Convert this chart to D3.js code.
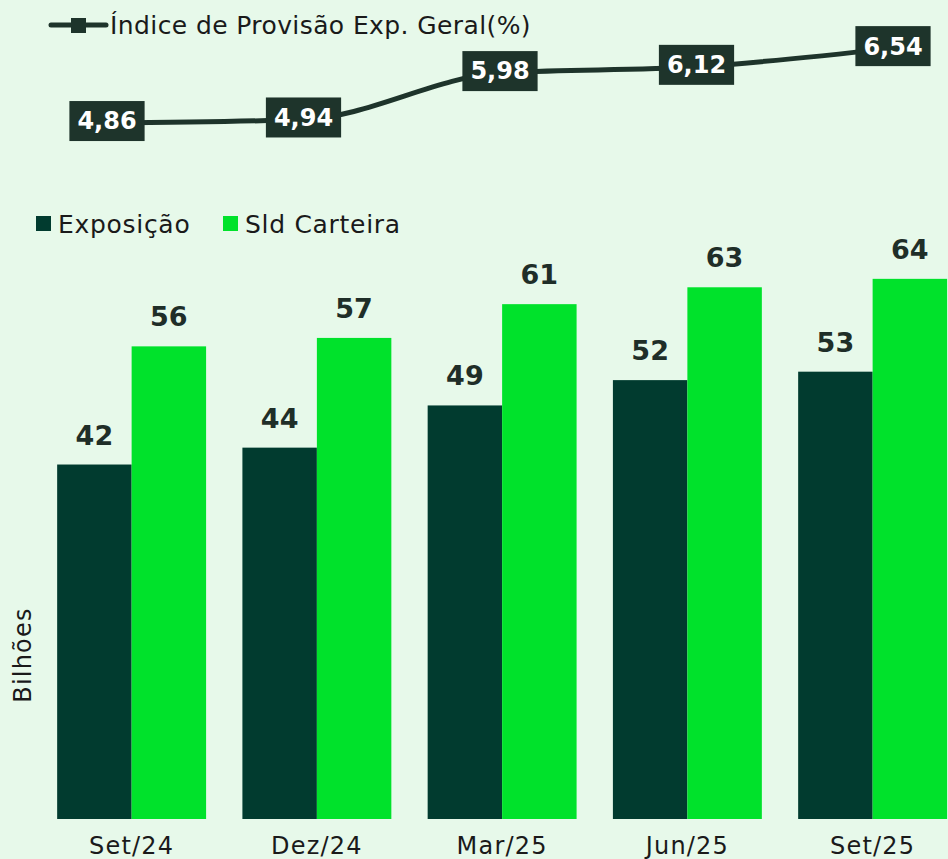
<!DOCTYPE html>
<html><head><meta charset="utf-8">
<script src="https://cdn.jsdelivr.net/npm/d3@7"></script>
<style>
html,body{margin:0;padding:0;background:#e7f9ea;}
svg{display:block;}
text{font-family:"DejaVu Sans",sans-serif;}
</style></head>
<body>
<svg id="c" width="948" height="859"></svg>
<script>
const categories = ["Set/24","Dez/24","Mar/25","Jun/25","Set/25"];
const exposicao = [42,44,49,52,53];
const sldCarteira = [56,57,61,63,64];
const indice = [4.86,4.94,5.98,6.12,6.54];
const indiceLabels = ["4,86","4,94","5,98","6,12","6,54"];
const seriesNames = ["Exposição","Sld Carteira"];
const lineName = "Índice de Provisão Exp. Geral(%)";

const W = 948, H = 859;
const cDark = "#013b2f", cGreen = "#00e22b", cBox = "#1e342b", cText = "#1a1a1a";
const svg = d3.select("#c");
svg.append("rect").attr("width",W).attr("height",H).attr("fill","#e7f9ea");

// Bar chart
const x = d3.scaleBand().domain(categories).range([39,965.25]).paddingInner(0.196).paddingOuter(0.098);
const xs = d3.scaleBand().domain(seriesNames).range([0,x.bandwidth()]);
const y = d3.scaleLinear().domain([0,70]).range([819,819-70*8.44]);

const g = svg.append("g");
const groups = g.selectAll("g.grp").data(categories).join("g")
  .attr("transform",d=>`translate(${x(d)},0)`);
const rows = categories.map((c,i)=>[{s:seriesNames[0],v:exposicao[i]},{s:seriesNames[1],v:sldCarteira[i]}]);
groups.each(function(c,i){
  const gg = d3.select(this);
  gg.selectAll("rect").data(rows[i]).join("rect")
    .attr("x",d=>xs(d.s)).attr("width",xs.bandwidth())
    .attr("y",d=>y(d.v)).attr("height",d=>y(0)-y(d.v))
    .attr("fill",d=>d.s===seriesNames[0]?cDark:cGreen);
  gg.selectAll("text").data(rows[i]).join("text")
    .attr("x",d=>xs(d.s)+xs.bandwidth()/2).attr("y",d=>y(d.v)-20)
    .attr("text-anchor","middle").attr("font-size",27).attr("font-weight",700)
    .attr("fill","#1f2e28").text(d=>d.v);
});

// x axis
const xAxis = d3.axisBottom(x).tickSize(0).tickPadding(0);
const ax = svg.append("g").attr("transform","translate(0,819)").call(xAxis);
ax.select(".domain").remove();
ax.selectAll("text").attr("font-size",24).attr("letter-spacing",1.2).attr("fill",cText).attr("dy",0).attr("y",35)
  .attr("font-family","'DejaVu Sans',sans-serif");

// y label
svg.append("text").attr("transform","translate(31,655) rotate(-90)")
  .attr("text-anchor","middle").attr("font-size",24).attr("letter-spacing",1.2).attr("fill",cText).text("Bilhões");

// bar legend
const lg = svg.append("g");
const legX = [36,223];
seriesNames.forEach((s,i)=>{
  lg.append("rect").attr("x",legX[i]).attr("y",216).attr("width",15).attr("height",15)
    .attr("fill",i===0?cDark:cGreen);
  lg.append("text").attr("x",legX[i]+22).attr("y",233).attr("font-size",25).attr("letter-spacing",0.7)
    .attr("fill",cText).text(s);
});

// line chart
const x2 = d3.scalePoint().domain(categories).range([107,893]);
const y2 = d3.scaleLinear().domain([4,7]).range([161.4,27.6]);
const line = d3.line().x((d,i)=>x2(categories[i])).y(d=>y2(d)).curve(d3.curveMonotoneX);
svg.append("path").datum(indice).attr("d",line).attr("fill","none")
  .attr("stroke",cBox).attr("stroke-width",5);

const lab = svg.append("g").selectAll("g").data(indice).join("g")
  .attr("transform",(d,i)=>`translate(${x2(categories[i])},${y2(d)-2})`);
lab.each(function(d,i){
  const gg = d3.select(this);
  const t = gg.append("text").attr("text-anchor","middle").attr("dy","0.35em")
    .attr("font-size",24).attr("font-weight",700).attr("fill","#ffffff").text(indiceLabels[i]);
  const bb = t.node().getBBox();
  gg.insert("rect","text").attr("x",bb.x-8).attr("y",-20).attr("width",bb.width+16).attr("height",40)
    .attr("fill",cBox);
});

// line legend
const ll = svg.append("g");
ll.append("line").attr("x1",51).attr("x2",106).attr("y1",25).attr("y2",25)
  .attr("stroke",cBox).attr("stroke-width",5).attr("stroke-linecap","round");
ll.append("rect").attr("x",71).attr("y",18).attr("width",15).attr("height",15).attr("fill",cBox);
ll.append("text").attr("x",110).attr("y",34).attr("font-size",25).attr("letter-spacing",0.4).attr("fill",cText).text(lineName);
</script>
</body></html>
